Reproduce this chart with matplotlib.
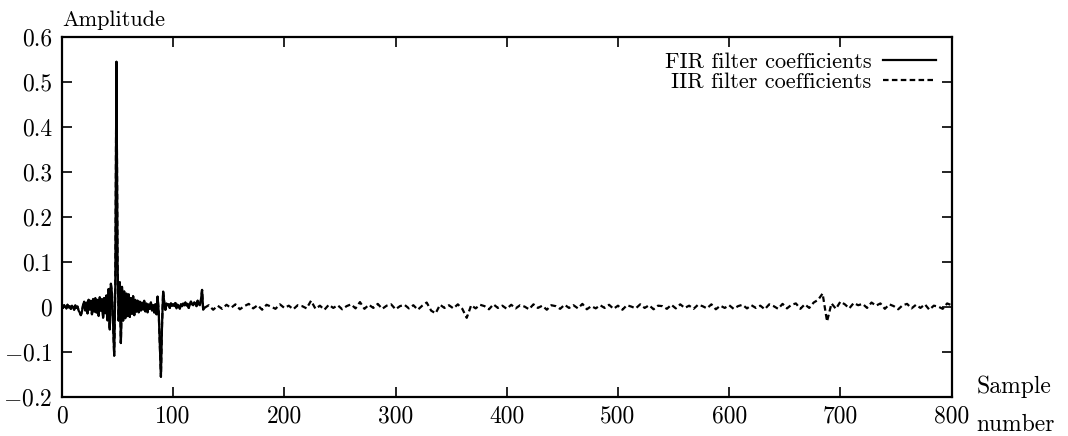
import numpy as np
import matplotlib
matplotlib.use("Agg")
import matplotlib.pyplot as plt

plt.rcParams['font.family'] = 'serif'
plt.rcParams['font.serif'] = ['cmr10', 'DejaVu Serif']
plt.rcParams['mathtext.fontset'] = 'cm'
plt.rcParams['axes.unicode_minus'] = False

# FIR coefficients, samples 0..128
fir_coeffs = [
    0.003, -0.002, 0.004, 0.001, -0.003, 0.005, -0.001, 0.002, -0.004, 0.003,
    0.000, -0.006, 0.004, -0.002, 0.001, -0.008, -0.012, -0.018, -0.010, 0.004,
    0.012, -0.008, 0.010, -0.014, 0.016, -0.006, 0.014, -0.016, 0.018, -0.010,
    0.020, -0.012, 0.016, -0.020, 0.022, -0.008, 0.018, -0.024, 0.020, -0.014,
    0.026, -0.030, 0.040, -0.050, 0.052, 0.030, -0.040, -0.108, 0.050, 0.545,
    0.100, -0.030, 0.055, -0.080, 0.045, -0.030, 0.035, -0.025, 0.030, -0.020,
    0.028, -0.022, 0.020, -0.015, 0.024, -0.018, 0.016, -0.010, 0.014, -0.012,
    0.012, -0.008, 0.010, -0.006, 0.014, -0.010, 0.008, -0.012, 0.006, -0.004,
    0.010, -0.008, 0.004, -0.012, 0.006, -0.016, 0.023, -0.010, -0.080, -0.155,
    -0.040, 0.034, 0.010, -0.006, 0.008, 0.004, 0.006, -0.002, 0.008, 0.003,
    0.006, 0.002, 0.009, -0.003, 0.005, 0.001, -0.004, 0.006, 0.002, 0.008,
    0.004, 0.010, 0.003, 0.007, -0.002, 0.005, 0.012, 0.006, 0.004, 0.010,
    0.008, 0.002, 0.014, 0.006, 0.004, 0.016, 0.038, -0.006, -0.002,
]

# IIR impulse response tail, samples 128..800 every 4 samples
# (for the first 128 samples it follows the FIR coefficients)
iir_tail = [
    -0.002, 0.004, -0.006, 0.003, -0.004, 0.005, -0.002, 0.006, -0.005, 0.002,
    0.007, -0.003, 0.004, -0.006, 0.005, 0.001, -0.004, 0.006, -0.002, 0.003,
    -0.005, 0.004, 0.002, -0.003, 0.014, -0.004, 0.003, -0.006, 0.005, -0.002,
    0.004, -0.005, 0.002, 0.006, -0.003, 0.011, -0.004, 0.005, -0.002, 0.007,
    -0.004, 0.003, 0.006, -0.005, 0.002, 0.005, -0.003, 0.004, -0.006, 0.003,
    0.010, -0.008, -0.014, 0.005, -0.002, 0.004, -0.003, 0.006, -0.004, -0.024,
    0.004, -0.003, 0.005, 0.002, -0.005, 0.006, -0.002, 0.003, -0.004, 0.005,
    -0.003, 0.004, 0.001, -0.005, 0.006, -0.002, 0.003, -0.006, 0.004, 0.002,
    -0.004, 0.005, -0.002, 0.004, -0.003, 0.007, -0.005, 0.002, -0.003, 0.004,
    -0.002, 0.005, -0.004, 0.003, -0.006, 0.004, 0.001, -0.003, 0.006, -0.002,
    0.004, -0.005, 0.003, 0.002, -0.004, 0.005, -0.003, 0.006, -0.002, 0.003,
    -0.004, 0.005, 0.002, -0.003, 0.006, -0.005, 0.003, -0.002, 0.004, -0.004,
    0.002, 0.005, -0.003, 0.004, -0.002, 0.003, -0.005, 0.006, 0.002, -0.004,
    0.007, -0.003, 0.005, 0.008, -0.004, 0.006, -0.002, 0.010, 0.016, 0.030,
    -0.032, 0.008, -0.004, 0.012, 0.006, -0.003, 0.009, 0.004, 0.007, -0.002,
    0.010, 0.003, 0.008, -0.004, 0.006, 0.002, -0.005, 0.004, 0.007, -0.003,
    0.005, -0.002, 0.006, -0.006, 0.003, 0.001, -0.004, 0.008, 0.004,
]

x_ticks = [0, 100, 200, 300, 400, 500, 600, 700, 800]
y_ticks = [-0.2, -0.1, 0, 0.1, 0.2, 0.3, 0.4, 0.5, 0.6]
y_tick_labels = ['$-0.2$', '$-0.1$', '0', '0.1', '0.2', '0.3', '0.4', '0.5', '0.6']

fir_x = np.arange(len(fir_coeffs))
tail_x = np.arange(len(iir_tail)) * 4 + len(fir_coeffs) - 1
iir_x = np.concatenate([fir_x[:-1], tail_x])
iir_y = np.concatenate([fir_coeffs[:-1], iir_tail])

fig = plt.figure(figsize=(10.68, 4.36), dpi=100)
ax = fig.add_axes([0.058, 0.0894, 0.833, 0.8256])

ax.plot(iir_x, iir_y, color='black', linewidth=1.6, linestyle=(0, (2.5, 1.5)),
        label='IIR filter coefficients')
ax.plot(fir_x, fir_coeffs, color='black', linewidth=1.6, label='FIR filter coefficients')

ax.set_xlim(0, 800)
ax.set_ylim(-0.2, 0.6)
ax.set_xticks(x_ticks)
ax.set_yticks(y_ticks)
ax.set_yticklabels(y_tick_labels)
ax.tick_params(direction='in', length=7, width=1.2, top=True, right=True,
               labelsize=17)
ax.tick_params(axis='y', pad=7)
ax.tick_params(axis='x', pad=6)
for s in ax.spines.values():
    s.set_linewidth(1.6)

handles, labels = ax.get_legend_handles_labels()
ax.legend(handles[::-1], labels[::-1], loc='upper right', frameon=False,
          markerfirst=False, fontsize=16, handlelength=2.4, handletextpad=0.5,
          labelspacing=0.0, borderaxespad=0.3)

fig.text(0.058, 0.94, 'Amplitude', fontsize=16, ha='left', va='baseline')
fig.text(0.914, 0.0986, 'Sample', fontsize=17, ha='left', va='baseline')
fig.text(0.914, 0.0115, 'number', fontsize=17, ha='left', va='baseline')

fig.savefig('out.png', dpi=100)
